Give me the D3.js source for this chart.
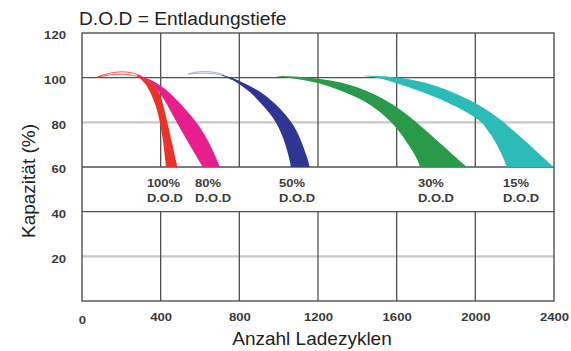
<!DOCTYPE html>
<html><head><meta charset="utf-8">
<script src="https://cdn.jsdelivr.net/npm/d3@7"></script>
<style>body{margin:0;background:#fff}svg{display:block}</style>
</head><body>
<svg id="c" width="571" height="351"></svg>
<script>
// ---- data ----
const cycleTicks = [0, 400, 800, 1200, 1600, 2000, 2400];
const capTicks = [20, 40, 60, 80, 100, 120];
const darkGrid = [100, 60, 40];
const lightGrid = [80, 20];
const innerVerticals = [400, 800, 1200, 1600, 2000];

const dodNames = ["100%", "80%", "50%", "30%", "15%"];
const labelCycles = [330, 575, 1002, 1708, 2141];
const dodColors = ["#ec3127", "#e61f8c", "#2e3592", "#29994a", "#2bbcb7"];

// band boundaries [cycles, capacity %]
const redOuter = [[285,101.2],[340,98.5],[375,96],[397,93],[417,86.5],[434,80],[460,70],[485,60]];
const redInner = [[278,100.8],[320,98],[351,93],[378,87],[397,80],[412,72],[421,65],[427,60]];
const pinkOuter = [[290,101],[340,99.5],[400,96.5],[446,93.3],[498,88.6],[545,84],[583,80],[625,74.5],[665,67.5],[702,60]];
const pinkInner = [[285,101],[340,98.5],[380,95.3],[410,91.5],[473,81.3],[540,71],[614,60]];
const blueOuter = [[715,101.3],[780,99.5],[850,96.5],[922,93],[980,88.5],[1030,84],[1066,80],[1100,75],[1130,68],[1150,63],[1157,60]];
const blueInner = [[712,101],[770,98.8],[820,96],[863,93],[920,87.5],[960,83.5],[990,79.5],[1020,74],[1045,67],[1058,62],[1062,60]];
const greenOuter = [[990,100.8],[1100,100.5],[1200,99.7],[1312,98.1],[1413,95.4],[1505,92],[1602,87],[1703,80],[1830,70],[1956,60]];
const greenInner = [[990,100.6],[1100,99.4],[1200,97.8],[1300,94.8],[1413,90.8],[1500,86],[1575,80],[1630,74],[1675,68],[1705,63.5],[1719,60]];
const tealOuter = [[1430,100.9],[1500,100.8],[1600,100.2],[1700,98.8],[1800,96.5],[1900,93],[2007,88.5],[2080,84.3],[2150,79.8],[2275,70],[2397,60]];
const tealInner = [[1430,100.7],[1500,100.2],[1600,97.5],[1700,94.5],[1800,91.3],[1900,87.3],[2007,81.8],[2033,80],[2080,74.5],[2120,68.5],[2145,63.5],[2160,60]];
// faint initial arcs
const redArcTop = [[81,100.5],[150,102.3],[208,102.8],[260,102.2],[300,100.8]];
const redArcBottom = [[81,100.3],[150,101.4],[208,101.7],[260,101.1],[300,100.2]];
const blueArcTop = [[541,101.7],[580,102.6],[630,102.8],[680,102.4],[717,101.4]];
const blueArcBottom = [[541,101.5],[580,102.0],[630,102.1],[680,101.7],[717,100.9]];

const title = "D.O.D = Entladungstiefe";
const xTitle = "Anzahl Ladezyklen";
const yTitle = "Kapazität (%)";

// ---- drawing ----
const svg = d3.select("#c");
const x = d3.scaleLinear().domain([0, 2400]).range([82, 554]);
const y = d3.scaleLinear().domain([0, 120]).range([301, 33]);
const dark = "#505050", light = "#c9c9c9";
const font = "'Liberation Sans', Arial, Helvetica, sans-serif";

function stretch(sel, f) {
  sel.each(function () {
    const len = this.getComputedTextLength();
    d3.select(this).attr("textLength", len * f).attr("lengthAdjust", "spacingAndGlyphs");
  });
}

// grid
const g = svg.append("g");
g.selectAll(".lg").data(lightGrid).join("line")
  .attr("x1", x(0)).attr("x2", x(2400)).attr("y1", d => y(d)).attr("y2", d => y(d))
  .attr("stroke", light).attr("stroke-width", 2.2);
innerVerticals.forEach(v => {
  g.append("line").attr("x1", x(v)).attr("x2", x(v)).attr("y1", y(120)).attr("y2", y(60))
    .attr("stroke", dark).attr("stroke-width", 1.3);
  g.append("line").attr("x1", x(v)).attr("x2", x(v)).attr("y1", y(40)).attr("y2", y(0))
    .attr("stroke", dark).attr("stroke-width", 1.3);
});
g.selectAll(".dg").data(darkGrid).join("line")
  .attr("x1", x(0)).attr("x2", x(2400)).attr("y1", d => y(d)).attr("y2", d => y(d))
  .attr("stroke", dark).attr("stroke-width", 1.3);
g.append("rect").attr("x", x(0)).attr("y", y(120)).attr("width", x(2400) - x(0)).attr("height", y(0) - y(120))
  .attr("fill", "none").attr("stroke", dark).attr("stroke-width", 1.4);

// bands
const line = d3.line().x(d => x(d[0])).y(d => y(d[1])).curve(d3.curveBasis);
function bandPath(outer, inner) {
  const a = line(outer);
  const b = line(inner.slice().reverse());
  return a + "L" + b.slice(1) + "Z";
}
const bands = [
  {o: pinkOuter, i: pinkInner, c: dodColors[1]},
  {o: redOuter, i: redInner, c: dodColors[0]},
  {o: blueOuter, i: blueInner, c: dodColors[2]},
  {o: greenOuter, i: greenInner, c: dodColors[3]},
  {o: tealOuter, i: tealInner, c: dodColors[4]}
];
const arcs = [
  {o: redArcTop, i: redArcBottom, c: dodColors[0], op: 0.9},
  {o: blueArcTop, i: blueArcBottom, c: "#8f9cc8", op: 0.9}
];
svg.append("g").selectAll("path.arc").data(arcs).join("path")
  .attr("d", d => bandPath(d.o, d.i)).attr("fill", "#fff").attr("fill-opacity", 0.6)
  .attr("stroke", d => d.c).attr("stroke-opacity", d => d.op).attr("stroke-width", 0.9);
svg.append("g").selectAll("path.band").data(bands).join("path")
  .attr("d", d => bandPath(d.o, d.i)).attr("fill", d => d.c);

// axes
const xAxis = svg.append("g").attr("transform", `translate(0,${y(0)})`)
  .call(d3.axisBottom(x).tickValues(cycleTicks).tickSize(0).tickPadding(12.5).tickFormat(d3.format("d")));
const yAxis = svg.append("g").attr("transform", `translate(${x(0)},0)`)
  .call(d3.axisLeft(y).tickValues(capTicks).tickSize(0).tickPadding(16).tickFormat(d3.format("d")));
[xAxis, yAxis].forEach(a => {
  a.select(".domain").remove();
  a.selectAll("text").attr("font-family", font).attr("font-size", 10.5).attr("font-weight", "bold").attr("fill", "#3a3a3a");
});
yAxis.selectAll("text").attr("dy", "0.55em");
xAxis.selectAll("text").filter(d => d === 0).attr("dy", "1.0em");
stretch(xAxis.selectAll("text"), 1.25);
stretch(yAxis.selectAll("text"), 1.25);

// DOD labels
const lab = svg.append("g").attr("font-family", font).attr("font-size", 11).attr("font-weight", "bold").attr("fill", "#3a3a3a");
dodNames.forEach((n, k) => {
  const t1 = lab.append("text").attr("x", x(labelCycles[k])).attr("y", y(60) + 20).text(n);
  const t2 = lab.append("text").attr("x", x(labelCycles[k])).attr("y", y(60) + 34.5).text("D.O.D");
  stretch(t1, 1.18); stretch(t2, 1.18);
});

// titles
svg.append("text").attr("x", 79).attr("y", 25).attr("font-family", font).attr("font-size", 19.2)
  .attr("fill", "#222").text(title);
svg.append("text").attr("x", 312).attr("y", 345).attr("text-anchor", "middle").attr("font-family", font)
  .attr("font-size", 19).attr("fill", "#222").text(xTitle);
svg.append("text").attr("transform", "translate(35,181) rotate(-90)").attr("text-anchor", "middle")
  .attr("font-family", font).attr("font-size", 19).attr("fill", "#222").text(yTitle);
</script>
</body></html>
